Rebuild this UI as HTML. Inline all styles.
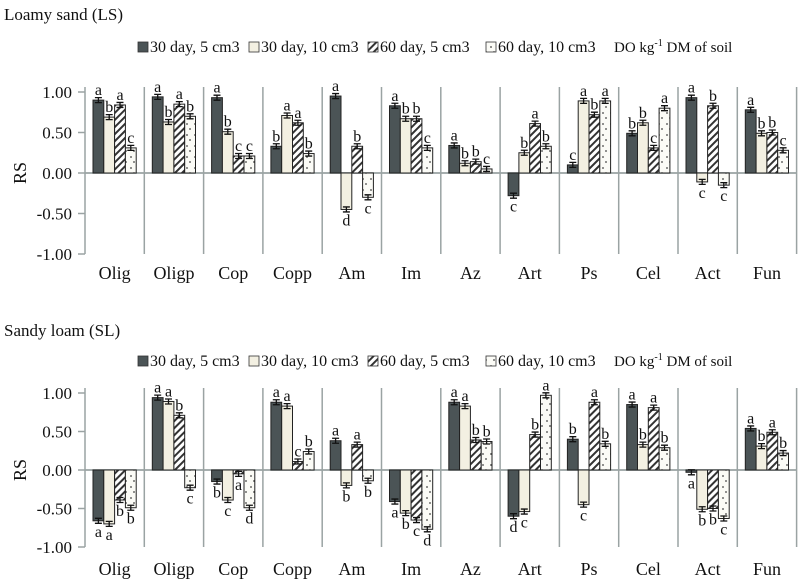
<!DOCTYPE html>
<html><head><meta charset="utf-8"><style>
body{margin:0;background:#fff}
svg, svg text{font-family:"Liberation Serif","Times New Roman",serif}
</style></head><body>
<svg id="c" width="798" height="579" viewBox="0 0 798 579" xmlns="http://www.w3.org/2000/svg" font-family="Liberation Serif, serif">
<defs>
<pattern id="hatch" patternUnits="userSpaceOnUse" width="5" height="5" patternTransform="rotate(45)">
<rect width="5" height="5" fill="#fff"/><rect width="2" height="5" fill="#333"/></pattern>
<pattern id="dots" patternUnits="userSpaceOnUse" width="8" height="11">
<rect width="8" height="11" fill="#fbfbf6"/><circle cx="3" cy="3" r="0.9" fill="#444"/><circle cx="6" cy="8" r="0.9" fill="#444"/></pattern>
</defs>
</svg>
<script>
const categories=["Olig","Oligp","Cop","Copp","Am","Im","Az","Art","Ps","Cel","Act","Fun"];
const seriesNames=["30 day, 5 cm3","30 day, 10  cm3","60 day, 5  cm3","60 day, 10  cm3"];
const ticks=[1,0.5,0,-0.5,-1];
const tickLabels=["1.00","0.50","0.00","-0.50","-1.00"];
const lsS1=[0.90,0.94,0.93,0.33,0.95,0.83,0.34,-0.28,0.10,0.49,0.93,0.78];
const lsS2=[0.69,0.63,0.51,0.71,-0.45,0.67,0.12,0.25,0.89,0.62,-0.11,0.49];
const lsS3=[0.84,0.85,0.21,0.62,0.33,0.67,0.14,0.61,0.72,0.31,0.83,0.50];
const lsS4=[0.31,0.70,0.21,0.24,-0.30,0.31,0.05,0.33,0.89,0.80,-0.15,0.28];
const lsL1=["a","a","a","b","a","a","a","c","c","b","a","a"];
const lsL2=["b","b","b","a","d","b","b","b","a","b","c","b"];
const lsL3=["a","a","c","a","b","b","b","a","b","c","b","b"];
const lsL4=["c","b","c","b","c","c","c","b","a","a","c","c"];
const slS1=[-0.66,0.94,-0.15,0.88,0.38,-0.41,0.88,-0.60,0.40,0.85,-0.03,0.54];
const slS2=[-0.70,0.89,-0.39,0.83,-0.20,-0.56,0.83,-0.54,-0.45,0.33,-0.51,0.31];
const slS3=[-0.39,0.71,-0.05,0.11,0.33,-0.65,0.39,0.46,0.88,0.81,-0.50,0.49];
const slS4=[-0.49,-0.23,-0.49,0.24,-0.14,-0.77,0.37,0.97,0.34,0.29,-0.63,0.22];
const slL1=["a","a","b","a","a","a","a","d","b","a","a","a"];
const slL2=["a","a","c","a","b","b","a","c","c","b","b","b"];
const slL3=["b","b","a","c","a","c","b","b","a","a","b","a"];
const slL4=["b","c","d","b","b","d","b","a","b","b","c","b"];

const svg=document.getElementById('c');
const NS="http://www.w3.org/2000/svg";
const fills=["#4b5456","#f3f0e2","url(#hatch)","url(#dots)"];
function el(t,a,p){const e=document.createElementNS(NS,t);for(const k in a)e.setAttribute(k,a[k]);(p||svg).appendChild(e);return e;}
function txt(x,y,s,size,anchor,p){const e=el('text',{x:x,y:y,'font-size':size,'text-anchor':anchor||'middle',fill:'#111','font-family':'Liberation Serif, serif'},p);e.textContent=s;return e;}

function chart(name,title,titleY,legY,y1,yPerUnit,catY,series,letters,prefix){
  const g=el('g',{});
  
  
  const t=txt(4,titleY,title,17,'start',g);
  
  
  const y0=y1+yPerUnit;
  const Y=v=>y0-v*yPerUnit;
  const X0=85,gw=59.3;
  const X=i=>X0+i*gw;
  const lg=el('g',{},g);
  
  
  const lx=[138,249,368,486];
  seriesNames.forEach((s,i)=>{
    const r=el('rect',{x:lx[i],y:legY-10,width:10,height:10,fill:fills[i],stroke:'#333','stroke-width':0.8},lg);
    
    
    const tt=txt(lx[i]+12,legY,s,16,'start',lg);
    
    
  });
  const u=el('text',{x:614,y:legY,'font-size':15,fill:'#111','font-family':'Liberation Serif, serif'},lg);
  u.innerHTML='DO kg<tspan dy="-6" font-size="10">-1</tspan><tspan dy="6"> DM of soil</tspan>';
  
  
  ticks.forEach((v,i)=>{
    const tl=txt(72,Y(v)+6,tickLabels[i],17,'end',g);
    
    
    const tk=el('line',{x1:78,x2:85,y1:Y(v),y2:Y(v),stroke:'#9aa3a3','stroke-width':1.5},g);
    
    
  });
  const yt=el('text',{x:0,y:0,'font-size':18,'text-anchor':'middle',fill:'#111','font-family':'Liberation Serif, serif',transform:`translate(26,${y0}) rotate(-90)`},g);
  yt.textContent='RS';
  
  
  for(let i=0;i<=categories.length;i++){
    const l=el('line',{x1:X(i),x2:X(i),y1:Y(1)-5,y2:Y(-1),stroke:'#9aa3a3','stroke-width':1.5},g);
    
    
  }
  const z=el('line',{x1:X0,x2:797,y1:y0,y2:y0,stroke:'#9aa3a3','stroke-width':1.8},g);
  
  
  const bw=10.8;
  categories.forEach((c,i)=>{
    const cl=txt(X(i)+gw/2,catY,c,18,'middle',g);
    
    
    series.forEach((s,j)=>{
      const v=s[i];
      const bx=X(i)+8+j*bw;
      const top=Math.min(Y(v),y0),h=Math.abs(Y(v)-y0);
      const b=el('rect',{x:bx,y:top,width:bw,height:Math.max(h,1),fill:fills[j],stroke:'#222','stroke-width':1},g);
      
      
      const cx=bx+bw/2,e=2.5;
      const eb=el('path',{d:`M${cx-3.5},${Y(v)-e}H${cx+3.5}M${cx},${Y(v)-e}V${Y(v)+e}M${cx-3.5},${Y(v)+e}H${cx+3.5}`,stroke:'#111','stroke-width':1.3,fill:'none'},g);
      
      
      const ly=v>=0?Y(v)-5:Y(v)+16;
      const lt=txt(cx,ly,letters[j][i],16,'middle',g);
      
      
    });
  });
}
chart('ls','Loamy sand (LS)',20,52,92,81,279,[lsS1,lsS2,lsS3,lsS4],[lsL1,lsL2,lsL3,lsL4],'ls');
chart('sl','Sandy loam (SL)',336,366,393,77,575,[slS1,slS2,slS3,slS4],[slL1,slL2,slL3,slL4],'sl');
</script>
</body></html>
